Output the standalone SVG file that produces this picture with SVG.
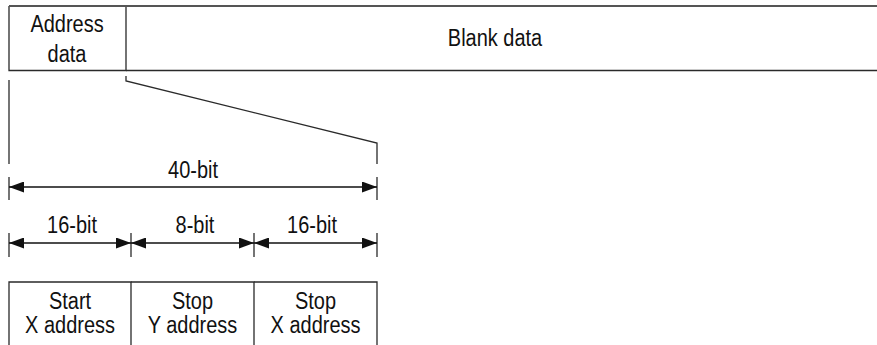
<svg xmlns="http://www.w3.org/2000/svg" width="877" height="345" viewBox="0 0 877 345">
<style>
text{font-family:"Liberation Sans",Arial,sans-serif;font-size:23.5px;fill:#111;text-anchor:middle}
.ln{stroke:#2a2a2a;stroke-width:1.3;fill:none}
.dim{stroke:#111;stroke-width:1.3;fill:none;marker-start:url(#arr);marker-end:url(#arr)}
</style>
<defs>
<marker id="arr" markerUnits="userSpaceOnUse" markerWidth="15" markerHeight="11" refX="15" refY="5.5" orient="auto-start-reverse">
<path d="M0,0 L15,5.5 L0,11 z" fill="#111"/>
</marker>
</defs>
<g id="address-data">
<path class="ln" d="M9,6 V70.5 H126 V6"/>
<text transform="translate(67,32) scale(0.85,1)">Address</text>
<text transform="translate(67,61.5) scale(0.85,1)">data</text>
</g>
<g id="blank-data">
<line x1="9" y1="6" x2="877" y2="6" stroke="#555" stroke-width="2"/>
<line x1="126" y1="70.5" x2="877" y2="70.5" class="ln"/>
<text transform="translate(495,46) scale(0.85,1)">Blank data</text>
</g>
<g id="start-x">
<path class="ln" d="M9,345 V282 H131 V345"/>
<text transform="translate(70,308.5) scale(0.85,1)">Start</text>
<text transform="translate(70,333) scale(0.85,1)">X address</text>
</g>
<g id="stop-y">
<path class="ln" d="M131,282 H254 V345"/>
<text transform="translate(192.5,308.5) scale(0.85,1)">Stop</text>
<text transform="translate(192.5,333) scale(0.85,1)">Y address</text>
</g>
<g id="stop-x">
<path class="ln" d="M254,282 H377 V345"/>
<text transform="translate(315.5,308.5) scale(0.85,1)">Stop</text>
<text transform="translate(315.5,333) scale(0.85,1)">X address</text>
</g>
<g id="connectors">
<path class="ln" d="M126,76 V81 L377,143 V164"/>
<line class="ln" x1="9" y1="80" x2="9" y2="164"/>
<line class="ln" x1="9" y1="177" x2="9" y2="200"/>
<line class="ln" x1="377" y1="177" x2="377" y2="200"/>
<line class="dim" x1="9" y1="187" x2="377" y2="187"/>
<text transform="translate(193,178) scale(0.85,1)">40-bit</text>
<line class="ln" x1="9" y1="233" x2="9" y2="257"/>
<line class="ln" x1="131" y1="233" x2="131" y2="257"/>
<line class="ln" x1="254" y1="233" x2="254" y2="257"/>
<line class="ln" x1="377" y1="233" x2="377" y2="257"/>
<line class="dim" x1="9" y1="243" x2="131" y2="243"/>
<line class="dim" x1="131" y1="243" x2="254" y2="243"/>
<line class="dim" x1="254" y1="243" x2="377" y2="243"/>
<text transform="translate(72,233) scale(0.85,1)">16-bit</text>
<text transform="translate(195,233) scale(0.85,1)">8-bit</text>
<text transform="translate(312,233) scale(0.85,1)">16-bit</text>
</g>
</svg>
